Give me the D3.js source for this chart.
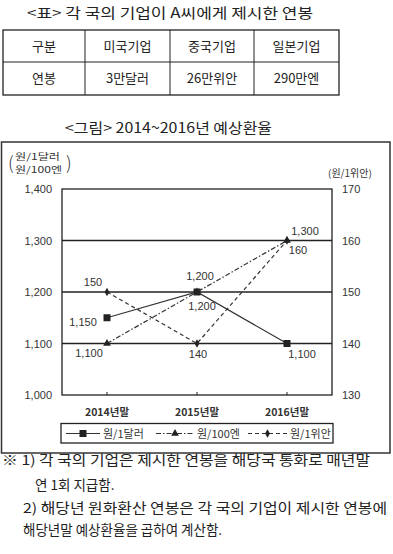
<!DOCTYPE html>
<html><head><meta charset="utf-8">
<script src="https://cdn.jsdelivr.net/npm/d3@7"></script>
<style>
html,body{margin:0;padding:0;background:#fff;}
svg{display:block;font-family:"Noto Sans CJK KR","Noto Sans",sans-serif;}
</style></head>
<body>
<svg id="c" width="393" height="554"></svg>
<script>
// ---- data ----
const tableHeader = ["구분","미국기업","중국기업","일본기업"];
const tableRow = ["연봉","3만달러","26만위안","290만엔"];
const categories = ["2014년말","2015년말","2016년말"];
const usd = [1150, 1200, 1100];      // 원/1달러 (left axis)
const jpy = [1100, 1200, 1300];      // 원/100엔 (left axis)
const cny = [150, 140, 160];         // 원/1위안 (right axis)
const leftTicks = [1000, 1100, 1200, 1300, 1400];
const rightTicks = [130, 140, 150, 160, 170];
const seriesNames = ["원/1달러","원/100엔","원/1위안"];
const notes = [
  "※ 1) 각 국의 기업은 제시한 연봉을 해당국 통화로 매년말",
  "연 1회 지급함.",
  "2) 해당년 원화환산 연봉은 각 국의 기업이 제시한 연봉에",
  "해당년말 예상환율을 곱하여 계산함."
];

const svg = d3.select("#c");
const ink = "#222";
const txt = "#333";

// ---- table title ----
svg.append("text").attr("x",27).attr("y",18)
  .attr("textLength",286).attr("lengthAdjust","spacingAndGlyphs")
  .attr("font-size",14).attr("fill",ink).text("<표> 각 국의 기업이 A씨에게 제시한 연봉");

// ---- table ----
const colX = [3, 85, 170, 254, 339];
const rowY = [30, 62, 95];
const tg = svg.append("g");
tg.append("rect").attr("x",colX[0]).attr("y",rowY[0]).attr("width",colX[4]-colX[0]).attr("height",rowY[2]-rowY[0])
  .attr("fill","none").attr("stroke",ink).attr("stroke-width",1.3);
tg.append("line").attr("x1",colX[0]).attr("x2",colX[4]).attr("y1",rowY[1]).attr("y2",rowY[1]).attr("stroke",ink).attr("stroke-width",1);
colX.slice(1,4).forEach(x=>tg.append("line").attr("x1",x).attr("x2",x).attr("y1",rowY[0]).attr("y2",rowY[2]).attr("stroke",ink).attr("stroke-width",1));
[tableHeader, tableRow].forEach((row,ri)=>{
  row.forEach((t,ci)=>{
    tg.append("text").attr("x",(colX[ci]+colX[ci+1])/2).attr("y",(rowY[ri]+rowY[ri+1])/2+4.5)
      .attr("text-anchor","middle").attr("font-size",13).attr("fill",ink).text(t);
  });
});

// ---- figure title ----
svg.append("text").attr("x",65).attr("y",133)
  .attr("textLength",207).attr("lengthAdjust","spacingAndGlyphs")
  .attr("font-size",14).attr("fill",ink).text("<그림> 2014~2016년 예상환율");

// ---- frame ----
svg.append("rect").attr("x",1.5).attr("y",142).attr("width",388.5).attr("height",311)
  .attr("fill","none").attr("stroke","#333").attr("stroke-width",1.5);

// ---- scales ----
const plot = {l:62, r:332, t:189, b:395};
const x = d3.scaleBand().domain(categories).range([plot.l, plot.r]);
const xc = d => x(d) + x.bandwidth()/2;
const yL = d3.scaleLinear().domain([1000,1400]).range([plot.b, plot.t]);
const yR = d3.scaleLinear().domain([130,170]).range([plot.b, plot.t]);

const g = svg.append("g");
// gridlines
leftTicks.slice(1,4).forEach(v=>{
  g.append("line").attr("x1",plot.l).attr("x2",plot.r).attr("y1",yL(v)).attr("y2",yL(v))
    .attr("stroke",ink).attr("stroke-width",1.3);
});
g.append("rect").attr("x",plot.l).attr("y",plot.t).attr("width",plot.r-plot.l).attr("height",plot.b-plot.t)
  .attr("fill","none").attr("stroke",ink).attr("stroke-width",1.3);

// axes
const axL = d3.axisLeft(yL).tickValues(leftTicks).tickSize(0).tickPadding(10).tickFormat(d3.format(","));
const gL = g.append("g").attr("transform",`translate(${plot.l},0)`).call(axL);
const axR = d3.axisRight(yR).tickValues(rightTicks).tickSize(0).tickPadding(10);
const gR = g.append("g").attr("transform",`translate(${plot.r},0)`).call(axR);
const axB = d3.axisBottom(x).tickSize(-3).tickPadding(14);
const gB = g.append("g").attr("transform",`translate(0,${plot.b})`).call(axB);
[gL,gR,gB].forEach(a=>{
  a.select(".domain").remove();
  a.selectAll("text").attr("font-size",11).attr("fill",txt).attr("font-family","Liberation Sans, Arial, sans-serif");
});
gB.selectAll("text").attr("font-family","Noto Sans CJK KR, sans-serif").attr("font-size",10.5).attr("font-weight","bold").attr("fill","#333");
gB.selectAll("line").attr("stroke",ink);

// axis unit labels
const ul = svg.append("g").attr("font-size",9).attr("fill",txt);
ul.append("text").attr("x",15).attr("y",160).attr("textLength",45).attr("lengthAdjust","spacingAndGlyphs").text("원/1달러");
ul.append("text").attr("x",15).attr("y",173).attr("textLength",47).attr("lengthAdjust","spacingAndGlyphs").text("원/100엔");
ul.append("text").attr("x",8).attr("y",170).attr("font-size",18).attr("font-weight",300).text("(");
ul.append("text").attr("x",66).attr("y",170).attr("font-size",18).attr("font-weight",300).text(")");
ul.append("text").attr("x",328).attr("y",177).attr("font-size",10).text("(원/1위안)");

// ---- series ----
const lineStyle = {usd:null, jpy:"5,2,1.5,2", cny:"4,3"};
function drawSeries(vals, yS, dash, marker){
  const pts = vals.map((v,i)=>[xc(categories[i]), yS(v)]);
  g.append("path").attr("d", d3.line()(pts)).attr("fill","none").attr("stroke","#333")
    .attr("stroke-width",1.2).attr("stroke-dasharray",dash);
  pts.forEach(p=>marker(g,p[0],p[1]));
  return pts;
}
const sq = (s,cx,cy)=>s.append("rect").attr("x",cx-3.5).attr("y",cy-3.5).attr("width",7).attr("height",7).attr("fill",ink);
const tri = (s,cx,cy)=>s.append("path").attr("d",d3.symbol(d3.symbolTriangle,26)()).attr("transform",`translate(${cx},${cy})`).attr("fill",ink);
const dot = (s,cx,cy)=>s.append("path").attr("d",d3.symbol(d3.symbolDiamond,20)()).attr("transform",`translate(${cx},${cy})`).attr("fill",ink);

drawSeries(usd, yL, lineStyle.usd, sq);
drawSeries(jpy, yL, lineStyle.jpy, tri);
drawSeries(cny, yR, lineStyle.cny, dot);

// data labels
const lab = g.append("g").attr("font-size",11).attr("fill",txt).attr("font-family","Liberation Sans, Arial, sans-serif").attr("text-anchor","middle");
const fmt = d3.format(",");
function label(cat, yv, text, dx, dy){
  lab.append("text").attr("x",xc(cat)+dx).attr("y",yv+dy).text(text);
}
label(categories[0], yL(usd[0]), fmt(usd[0]), -24, 8);
label(categories[1], yL(usd[1]), fmt(usd[1]), 5, 18);
label(categories[2], yL(usd[2]), fmt(usd[2]), 15, 14);
label(categories[0], yL(jpy[0]), fmt(jpy[0]), -18, 13);
label(categories[1], yL(jpy[1]), fmt(jpy[1]), 3, -12);
label(categories[2], yL(jpy[2]), fmt(jpy[2]), 18, -6);
label(categories[0], yR(cny[0]), fmt(cny[0]), -14, -6);
label(categories[1], yR(cny[1]), fmt(cny[1]), 1, 14);
label(categories[2], yR(cny[2]), fmt(cny[2]), 11, 13);

// ---- legend ----
const lg = svg.append("g");
lg.append("rect").attr("x",61).attr("y",423.5).attr("width",272).attr("height",19.5)
  .attr("fill","none").attr("stroke",ink).attr("stroke-width",1.3);
const ly = 433.5;
const legendItems = [
  {name:seriesNames[0], x1:66, x2:100, m:sq, dash:null, tx:103},
  {name:seriesNames[1], x1:156, x2:194, m:tri, dash:"5,2,1.5,2", tx:197},
  {name:seriesNames[2], x1:248, x2:287, m:dot, dash:"4,3", tx:290}
];
legendItems.forEach(it=>{
  lg.append("line").attr("x1",it.x1).attr("x2",it.x2).attr("y1",ly).attr("y2",ly)
    .attr("stroke","#333").attr("stroke-width",1.2).attr("stroke-dasharray",it.dash);
  it.m(lg,(it.x1+it.x2)/2,ly);
  lg.append("text").attr("x",it.tx).attr("y",ly+4).attr("font-size",11).attr("fill",txt).text(it.name);
});

// ---- notes ----
const ng = svg.append("g").attr("font-size",13.5).attr("fill",ink);
ng.append("text").attr("x",2).attr("y",465).attr("textLength",368).attr("lengthAdjust","spacingAndGlyphs").text(notes[0]);
ng.append("text").attr("x",35).attr("y",490).text(notes[1]);
ng.append("text").attr("x",23).attr("y",513).attr("textLength",364).attr("lengthAdjust","spacingAndGlyphs").text(notes[2]);
ng.append("text").attr("x",23).attr("y",535).text(notes[3]);
</script>
</body></html>
